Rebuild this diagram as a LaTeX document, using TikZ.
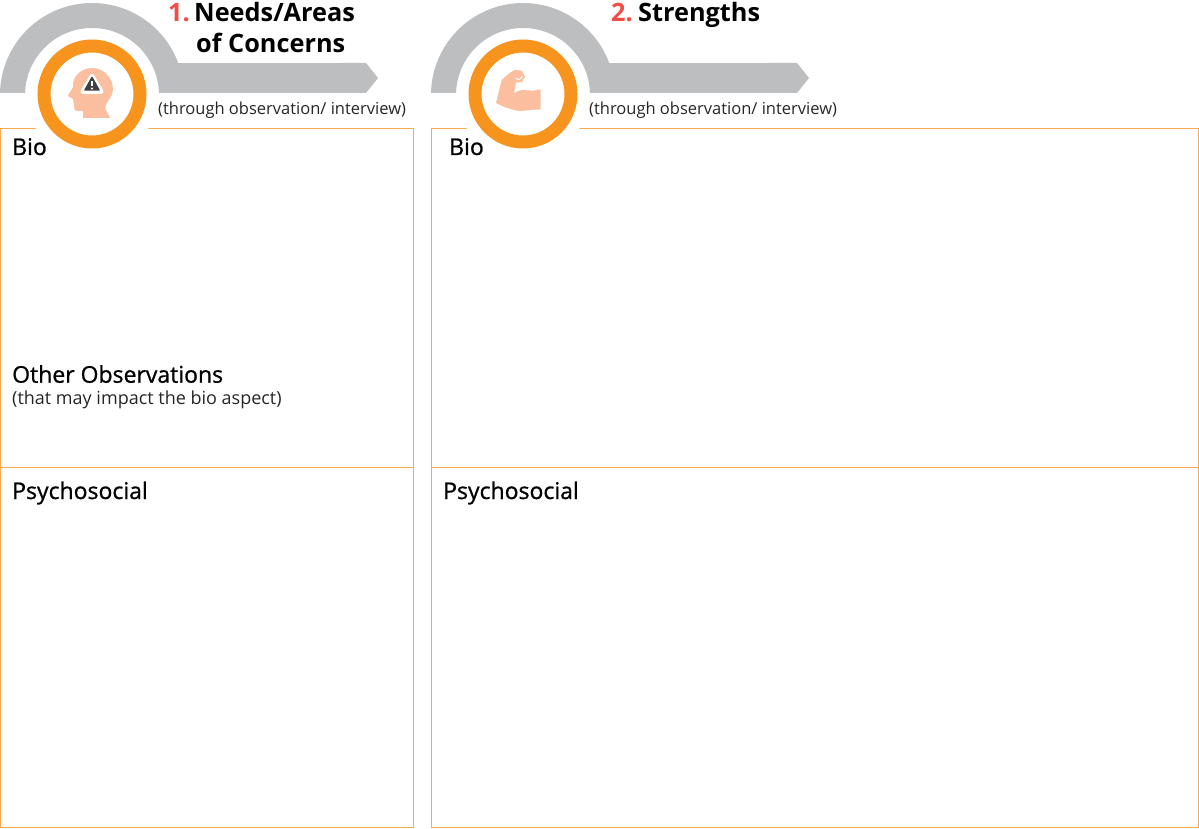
\documentclass[tikz,border=0pt]{standalone}
\usepackage{xcolor}
\usepackage{fontspec}
\setmainfont{Open Sans}
\newfontfamily\semifont[FakeBold=0.9]{Open Sans}
\usetikzlibrary{positioning}
\definecolor{archgray}{HTML}{BCBEC0}
\definecolor{ringorange}{HTML}{F7941D}
\definecolor{boxorange}{HTML}{FAA94F}
\definecolor{skinpeach}{HTML}{FBBFA0}
\definecolor{numred}{HTML}{F04E45}
\definecolor{signgray}{HTML}{414042}
\tikzset{
  panel/.style={draw=boxorange, line width=1pt, anchor=north west, inner sep=0pt, outer sep=0pt},
  title/.style={anchor=base west, inner sep=0pt, font=\fontsize{25.3}{30}\selectfont\bfseries},
  number/.style={title, text=numred},
  heading/.style={anchor=base west, inner sep=0pt, font=\fontsize{23}{26}\semifont},
  note/.style={anchor=base west, inner sep=0pt, font=\fontsize{16.5}{20}\selectfont, text=black!85},
  subnote/.style={note, font=\fontsize{18}{20}\selectfont}
}
\newcommand{\badge}[1]{%
  \begin{scope}[shift={(#1,0)}]
    \fill[white] (92,94) circle (66);
    \fill[archgray] (0,93) arc[start angle=181.25, end angle=339.65, radius=92] -- (366,63) -- (378,78) -- (366,93)
      -- (159,93) arc[start angle=358.3, end angle=181.7, radius=67] -- cycle;
    \draw[ringorange, line width=13pt] (92,94) circle (48);
  \end{scope}
}
\begin{document}
\begin{tikzpicture}[x=1pt, y=-1pt]
        \useasboundingbox (0,0) rectangle (1199,829);

        % Panels
        \node[panel, minimum width=413pt, minimum height=339pt] (bioneeds) at (0.5,128.5) {};
        \node[panel, minimum width=413pt, minimum height=360pt] (psyneeds) at (0.5,467.5) {};
        \node[panel, minimum width=767pt, minimum height=339pt] (biostrengths) at (431.5,128.5) {};
        \node[panel, minimum width=767pt, minimum height=360pt] (psystrengths) at (431.5,467.5) {};

        % Headers
        \badge{0}
        \badge{431}

        % Head icon
        \fill[skinpeach] (83,118) -- (83,111) -- (78,111) .. controls (74,111) and (74,108) .. (74,105)
          -- (73,99) -- (68,96) .. controls (68,94) and (72,90) .. (73,87)
          .. controls (72,76) and (82,68) .. (92,68) .. controls (104,68) and (113,78) .. (113,90)
          .. controls (113,97) and (106,101) .. (105,108) -- (110,118) -- cycle;
        \fill[white, draw=white, line width=5pt, line join=round] (92,76.5) -- (83,91.5) -- (101,91.5) -- cycle;
        \fill[signgray, draw=signgray, line width=1.5pt, line join=round] (92,77.5) -- (85,90) -- (99,90) -- cycle;
        \fill[white] (91,81) rectangle (93,86.5);
        \fill[white] (92,88.5) circle (1.2);

        % Arm icon
        \fill[skinpeach] (496,103) -- (501.7,80) .. controls (506,76) and (510,72) .. (515,70)
          -- (521.7,70.7) -- (525,76.7) -- (521.7,82.3) -- (516,82.3) -- (514,93.3)
          .. controls (518,91) and (520,90) .. (522,90) -- (533,90.7) -- (540.7,89.3) -- (540.7,109.3)
          -- (530,110) .. controls (524,111) and (520,111) .. (516.7,110.7) -- (505,107.3) -- cycle;
        \draw[white, line width=1pt] (522,76) arc[start angle=0, end angle=140, radius=3.5];

        % Titles
        \node[number] (numneeds) at (168,22) {1.};
        \node[title] (needs) at (194,22) {Needs/Areas};
        \node[title] (concerns) at (196,53) {of Concerns};
        \node[note] (obsneeds) at (158,114.7) {(through observation/ interview)};
        \node[number] (numstrengths) at (611,22) {2.};
        \node[title] (strengths) at (638,22) {Strengths};
        \node[note] (obsstrengths) at (589,114.7) {(through observation/ interview)};

        % Labels
        \node[heading] (bioa) at (12,155) {Bio};
        \node[heading] (other) at (12,382.7) {Other Observations};
        \node[subnote] (impact) at (12,404) {(that may impact the bio aspect)};
        \node[heading] (psya) at (12,499) {Psychosocial};
        \node[heading] (biob) at (449,155) {Bio};
        \node[heading] (psyb) at (443,499) {Psychosocial};
    \end{tikzpicture}
\end{document}
